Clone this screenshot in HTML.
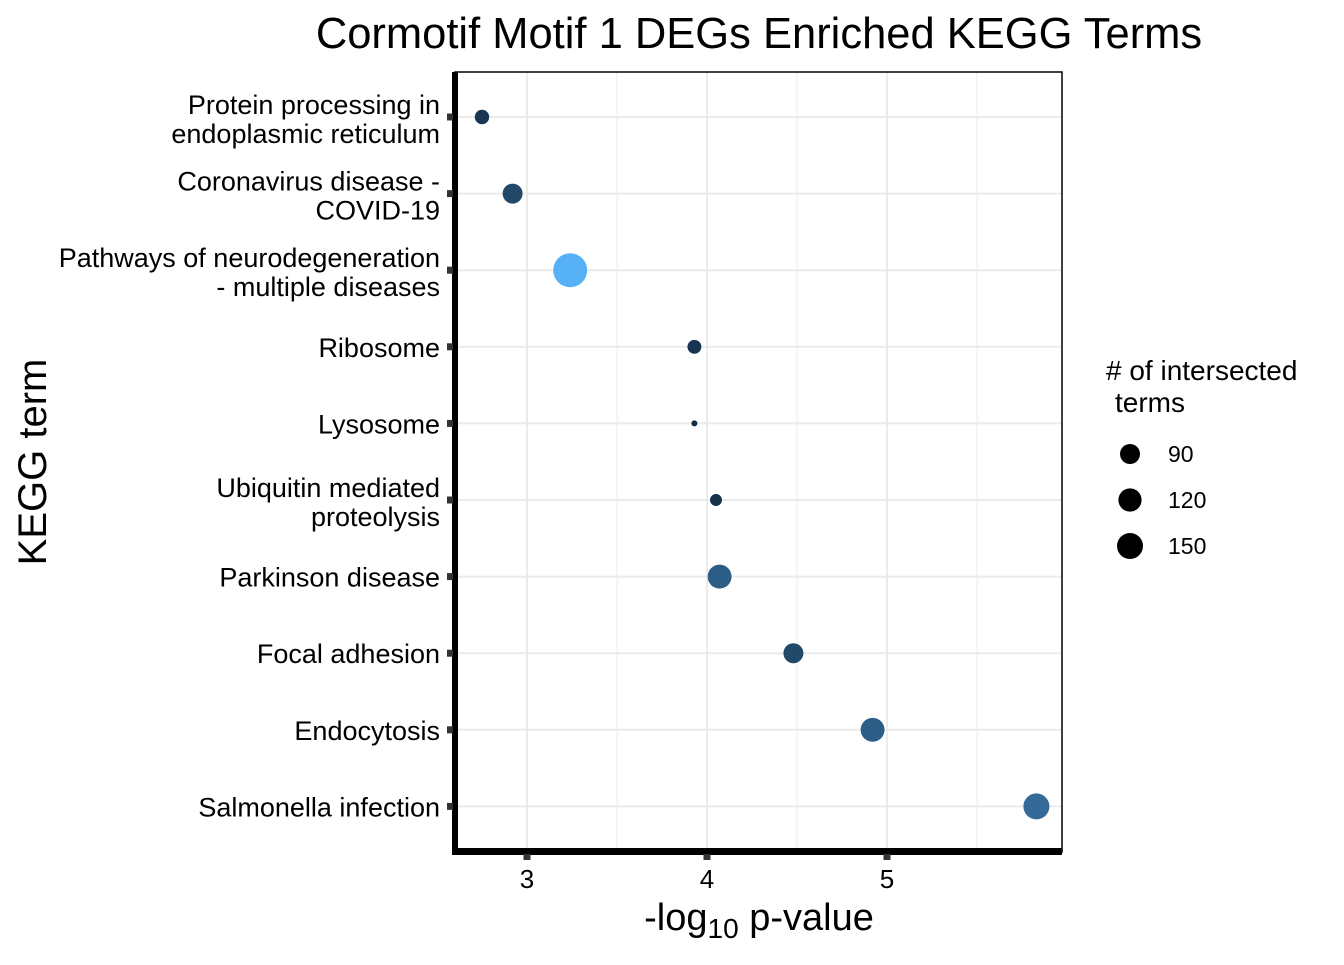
<!DOCTYPE html>
<html><head><meta charset="utf-8"><style>
body{margin:0;background:#fff}
svg{font-family:"Liberation Sans",Arial,sans-serif}
</style></head><body>
<svg width="1344" height="960" viewBox="0 0 1344 960">
<rect width="1344" height="960" fill="#fff"/>
<text x="759" y="48" text-anchor="middle" font-size="43.5">Cormotif Motif 1 DEGs Enriched KEGG Terms</text>
<g id="grid"></g>
<rect x="455" y="72" width="607" height="780" fill="none" stroke="#000" stroke-width="1.5"/>
<g id="points"></g>
<rect x="452" y="72" width="6" height="783" fill="#000"/>
<rect x="452" y="848" width="610" height="7" fill="#000"/>
<g id="yticks"></g>
<g id="xticks"></g>
<text x="759" y="930" text-anchor="middle" font-size="38">-log<tspan font-size="28" dy="8">10</tspan><tspan dy="-8"> p-value</tspan></text>
<text transform="translate(46,462) rotate(-90)" text-anchor="middle" font-size="40">KEGG term</text>
<g>
<text x="1106" y="380" font-size="28"># of intersected</text>
<text x="1115" y="412" font-size="28">terms</text>
<g id="legend"></g>
</g>
</svg>
<script>
const terms=[["Protein processing in","endoplasmic reticulum"],["Coronavirus disease -","COVID-19"],["Pathways of neurodegeneration","- multiple diseases"],["Ribosome"],["Lysosome"],["Ubiquitin mediated","proteolysis"],["Parkinson disease"],["Focal adhesion"],["Endocytosis"],["Salmonella infection"]];
const pvals=[2.75,2.92,3.24,3.93,3.93,4.05,4.07,4.48,4.92,5.83];
const counts=[48,90,254,45,11,34,128,90,128,150];
const xTicks=[3,4,5];
const legendCounts=[90,120,150];
const NS="http://www.w3.org/2000/svg";
const xs=v=>527+(v-3)*180;
const ys=i=>117+i*76.6;
const rs=c=>Math.sqrt(Math.max(4,-3.5+1.15*c));
function col(c){let t=Math.min(1,Math.max(0,(c-11)/(254-11)));t=Math.pow(t,1.35);
const a=[19,43,67],b=[86,177,247];return `rgb(${a.map((v,k)=>Math.round(v+(b[k]-v)*t)).join(',')})`;}
function mk(tag,attrs,parent){const e=document.createElementNS(NS,tag);for(const k in attrs)e.setAttribute(k,attrs[k]);parent.appendChild(e);return e;}
const grid=document.getElementById('grid');
[2.5,3,3.5,4,4.5,5,5.5].forEach(v=>{const x=xs(v);if(x<455||x>1062)return;
const l=mk('line',{x1:x,x2:x,y1:72,y2:852,stroke:'#ebebeb','stroke-width':v%1?1:2},grid);

});
terms.forEach((t,i)=>{const l=mk('line',{x1:455,x2:1062,y1:ys(i),y2:ys(i),stroke:'#ebebeb','stroke-width':2},grid);

});
const pts=document.getElementById('points');
pvals.forEach((p,i)=>{const c=mk('circle',{cx:xs(p),cy:ys(i),r:rs(counts[i]),fill:col(counts[i])},pts);

});
const yt=document.getElementById('yticks');
terms.forEach((t,i)=>{const y=ys(i);
const r=mk('rect',{x:447,y:y-3.5,width:6,height:7,fill:'#333'},yt);


const tx=mk('text',{x:440,'text-anchor':'end','font-size':27},yt);


if(t.length==1){tx.setAttribute('y',y+10);tx.textContent=t[0];}
else{const a=mk('tspan',{x:440,y:y-3},tx);a.textContent=t[0];const b=mk('tspan',{x:440,y:y+26},tx);b.textContent=t[1];}});
const xt=document.getElementById('xticks');
xTicks.forEach(v=>{const x=xs(v);
const r=mk('rect',{x:x-3.5,y:854,width:7,height:6,fill:'#333'},xt);


const tx=mk('text',{x:x,y:888,'text-anchor':'middle','font-size':26},xt);


tx.textContent=v;});
const lg=document.getElementById('legend');
legendCounts.forEach((c,i)=>{const y=454+i*46;
const ci=mk('circle',{cx:1130,cy:y,r:rs(c),fill:'#000'},lg);


const tx=mk('text',{x:1168,y:y+8,'font-size':23},lg);


tx.textContent=c;});
</script>
</body></html>
